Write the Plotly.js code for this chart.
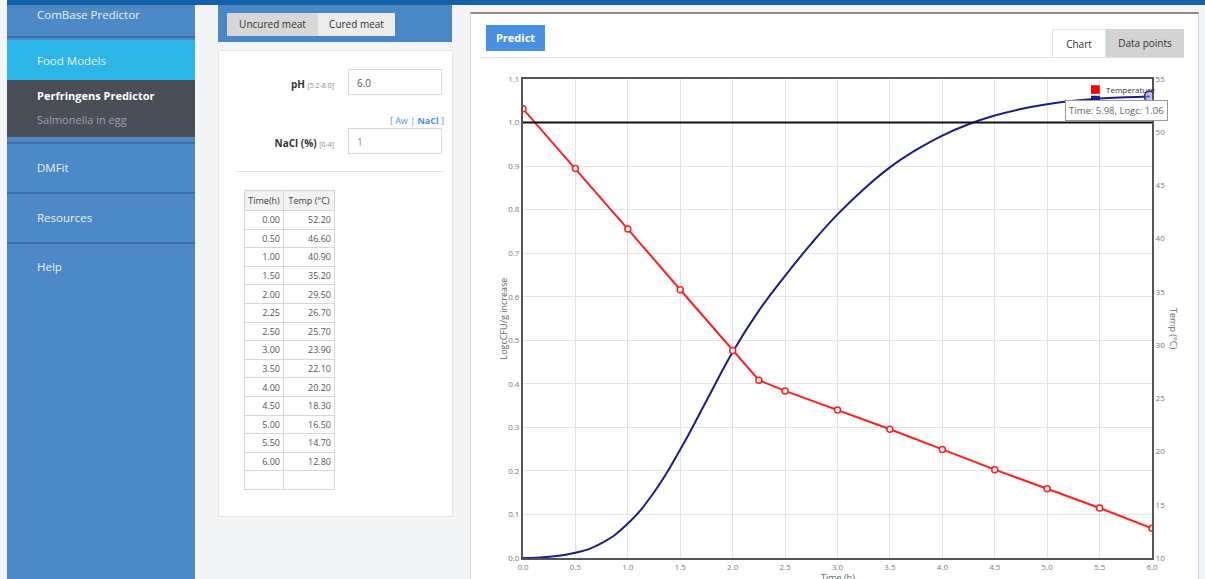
<!DOCTYPE html>
<html>
<head>
<meta charset="utf-8">
<script src="https://cdn.plot.ly/plotly-3.0.1.min.js"></script>
<style>
  html,body{margin:0;padding:0;width:1205px;height:579px;overflow:hidden;background:#f4f5f7;font-family:"Open Sans","Noto Sans",sans-serif;}
  .abs{position:absolute;}
  #topbar{left:7px;top:0;width:1198px;height:5px;background:#1561a9;}
  #sidebar{left:7px;top:5px;width:188px;height:574px;background:#4d89c7;}
  .sep{position:absolute;left:0;width:188px;height:2px;background:#3c6fa6;}
  .item{position:absolute;left:30px;color:#e9f1fa;font-size:11.5px;}
  #active{position:absolute;left:0;top:35px;width:188px;height:40px;background:#2cb5e7;}
  #notch{position:absolute;right:0;top:49px;width:0;height:0;border-top:7px solid transparent;border-bottom:7px solid transparent;border-right:8px solid #fff;}
  #submenu{position:absolute;left:0;top:75px;width:188px;height:57px;background:#4a4e57;}
  #midtop{left:218px;top:5px;width:234px;height:37px;background:#4a87c5;}
  .btn{position:absolute;top:8px;height:23px;line-height:23px;font-size:10px;color:#333;text-align:center;}
  #form{left:218px;top:50px;width:233px;height:465px;background:#fff;border:1px solid #e6e6e6;}
  .lbl{position:absolute;font-size:10px;font-weight:bold;color:#333;text-align:right;}
  .lbl small{font-weight:normal;font-size:7px;color:#888;}
  .inp{position:absolute;width:94px;height:26px;border:1px solid #d8d8d8;font-size:10px;color:#555;line-height:26px;padding-left:8px;box-sizing:border-box;}
  table{border-collapse:collapse;table-layout:fixed;font-size:9px;color:#555;}
  td,th{border:1px solid #d6d6d6;height:17.6px;padding:0 3px;text-align:right;white-space:nowrap;overflow:hidden;}
  th{font-weight:normal;background:#f2f2f2;color:#444;height:19px;text-align:center;padding:0 1px;}
  #panel{left:470px;top:12px;width:727px;height:567px;background:#fff;border-left:1px solid #d5d5d5;border-right:1px solid #d5d5d5;border-top:2px solid #8c8c8c;}
  #predict{left:486px;top:25px;width:59px;height:26px;background:#4a90e2;color:#fff;font-size:11px;font-weight:bold;line-height:26px;text-align:center;}
  #tabline{left:480px;top:57px;width:704px;height:1px;background:#e2e2e2;}
  #tabchart{left:1052px;top:29px;width:54px;height:28px;background:#fff;border:1px solid #e2e2e2;border-bottom:none;font-size:10px;color:#333;line-height:28px;text-align:center;box-sizing:border-box;}
  #tabdata{left:1106px;top:29px;width:78px;height:28px;background:#d3d3d3;font-size:10px;color:#333;line-height:28px;text-align:center;}
  #chart{left:470px;top:60px;width:727px;height:540px;}
</style>
</head>
<body>
<div id="sidebar" class="abs">
  <div class="item" style="top:2px;">ComBase Predictor</div>
  <div class="sep" style="top:31px;"></div>
  <div id="active"><div class="item" style="top:13px;">Food Models</div><div id="notch"></div></div>
  <div id="submenu">
    <div class="item" style="top:8px;color:#fff;font-weight:bold;font-size:11px;">Perfringens Predictor</div>
    <div class="item" style="top:32px;color:#9aa0aa;font-size:11px;">Salmonella in egg</div>
  </div>
  <div class="sep" style="top:137px;"></div>
  <div class="item" style="top:155px;">DMFit</div>
  <div class="sep" style="top:187px;"></div>
  <div class="item" style="top:205px;">Resources</div>
  <div class="sep" style="top:237px;"></div>
  <div class="item" style="top:254px;">Help</div>
</div>
<div id="topbar" class="abs"></div>

<div id="midtop" class="abs">
  <div class="btn" style="left:9px;width:91px;background:#d7d7d7;">Uncured meat</div>
  <div class="btn" style="left:100px;width:77px;background:#ececec;">Cured meat</div>
</div>
<div id="form" class="abs">
  <div class="lbl" style="left:20px;width:95px;top:26px;">pH <small>[5.2-8.0]</small></div>
  <div class="inp" style="left:129px;top:18px;">6.0</div>
  <div class="abs" style="right:8px;top:63px;font-size:9px;color:#4a90e2;">[ Aw | <b>NaCl</b> ]</div>
  <div class="lbl" style="left:20px;width:95px;top:85px;">NaCl (%) <small>[0-4]</small></div>
  <div class="inp" style="left:129px;top:77px;color:#888;">1</div>
  <div class="abs" style="left:17px;top:120px;width:207px;height:1px;background:#e4e4e4;"></div>
  <div class="abs" style="left:25px;top:139px;" id="tblwrap"></div>
</div>

<div id="panel" class="abs"></div>
<div id="predict" class="abs">Predict</div>
<div id="tabline" class="abs"></div>
<div id="tabchart" class="abs">Chart</div>
<div id="tabdata" class="abs">Data points</div>
<div id="chart" class="abs"></div>

<script>
// ---- data ----
const timeH = [0.00, 0.50, 1.00, 1.50, 2.00, 2.25, 2.50, 3.00, 3.50, 4.00, 4.50, 5.00, 5.50, 6.00];
const tempC = [52.20, 46.60, 40.90, 35.20, 29.50, 26.70, 25.70, 23.90, 22.10, 20.20, 18.30, 16.50, 14.70, 12.80];
const growthTime = [0, 0.25, 0.5, 0.75, 1.0, 1.25, 1.5, 1.75, 2.0, 2.25, 2.5, 2.75, 3.0, 3.25, 3.5, 3.75, 4.0, 4.25, 4.5, 4.75, 5.0, 5.25, 5.5, 5.75, 5.98];
const growthLog = [0, 0.003, 0.012, 0.034, 0.079, 0.151, 0.249, 0.361, 0.473, 0.568, 0.648, 0.722, 0.789, 0.847, 0.897, 0.937, 0.970, 0.996, 1.016, 1.031, 1.042, 1.050, 1.055, 1.058, 1.060];
const referenceLine = 1.0;
const xTitle = 'Time (h)';
const yTitle = 'LogcCFU/g increase';
const y2Title = 'Temp (°C)';
const tableHeaders = ['Time(h)', 'Temp (°C)'];

// ---- table ----
let html = '<table><colgroup><col style="width:39px"><col style="width:51px"></colgroup><tr><th>' + tableHeaders[0] + '</th><th>' + tableHeaders[1] + '</th></tr>';
for (let i = 0; i < timeH.length; i++) {
  html += '<tr><td>' + timeH[i].toFixed(2) + '</td><td>' + tempC[i].toFixed(2) + '</td></tr>';
}
html += '<tr><td></td><td></td></tr></table>';
document.getElementById('tblwrap').innerHTML = html;

// ---- chart ----
const lastI = growthTime.length - 1;
const traces = [
  {x: growthTime, y: growthLog, mode: 'lines', line: {color: '#1c1c8f', width: 2, shape: 'spline', smoothing: 1.3}, name: 'Logc', hoverinfo: 'skip'},
  {x: timeH, y: tempC, yaxis: 'y2', mode: 'lines+markers', name: 'Temperature',
   line: {color: '#ff1f1f', width: 2},
   marker: {symbol: 'circle', size: 6, color: '#ffffff', line: {color: '#ff1f1f', width: 1.5}}, hoverinfo: 'skip'},
  {x: [growthTime[lastI]], y: [growthLog[lastI]], mode: 'markers', showlegend: false, hoverinfo: 'skip',
   marker: {size: 11, color: 'rgba(140,140,230,0.55)', line: {color: '#2a2a9a', width: 1.5}}}
];
const tickFont = {size: 8, color: '#7a7a7a', family: 'Open Sans, sans-serif'};
const layout = {
  width: 727, height: 540,
  margin: {l: 53, r: 45, t: 19, b: 42},
  paper_bgcolor: 'rgba(0,0,0,0)', plot_bgcolor: '#ffffff',
  showlegend: false,
  font: {family: 'Open Sans, sans-serif'},
  xaxis: {range: [0, 6], dtick: 0.5, tick0: 0, tickformat: '.1f', showgrid: true, gridcolor: '#e4e4e4', gridwidth: 1,
          showline: true, linecolor: '#555', linewidth: 2, mirror: true, zeroline: false, ticks: '', tickfont: tickFont, fixedrange: true},
  yaxis: {range: [0, 1.1], dtick: 0.1, tick0: 0, tickformat: '.1f', showgrid: true, gridcolor: '#e4e4e4', gridwidth: 1,
          showline: true, linecolor: '#555', linewidth: 2, mirror: true, zeroline: false, ticks: '', tickfont: tickFont, fixedrange: true},
  yaxis2: {overlaying: 'y', side: 'right', range: [10, 55], dtick: 5, showgrid: false, showline: true, linecolor: '#555', linewidth: 2,
           zeroline: false, ticks: '', tickfont: tickFont, fixedrange: true},
  shapes: [
    {type: 'line', xref: 'x', yref: 'y', x0: 0, x1: 6, y0: referenceLine, y1: referenceLine, line: {color: '#111', width: 2}},
    {type: 'rect', xref: 'paper', yref: 'paper', x0: 0.903, x1: 0.917, y0: 0.969, y1: 0.987, fillcolor: '#ff0000', line: {width: 0}},
    {type: 'rect', xref: 'paper', yref: 'paper', x0: 0.903, x1: 0.917, y0: 0.947, y1: 0.965, fillcolor: '#1c1c8f', line: {width: 0}}
  ],
  annotations: [
    {xref: 'paper', yref: 'paper', x: 0.924, y: 0.978, xanchor: 'left', yanchor: 'middle', showarrow: false,
     text: 'Temperature', font: {size: 8, color: '#333'}},
    {xref: 'x', yref: 'y', x: growthTime[lastI], y: growthLog[lastI], xanchor: 'right', yanchor: 'top', showarrow: false,
     xshift: 18, yshift: -4, text: 'Time: ' + growthTime[lastI].toFixed(2) + ', Logc: ' + growthLog[lastI].toFixed(2),
     bgcolor: '#ffffff', bordercolor: '#9a9a9a', borderwidth: 1, borderpad: 3, font: {size: 9.5, color: '#666'}},
    {xref: 'paper', yref: 'paper', x: 0, y: 0.5, xanchor: 'center', yanchor: 'middle', showarrow: false, textangle: -90,
     xshift: -20, text: yTitle, font: {size: 9, color: '#666'}},
    {xref: 'paper', yref: 'paper', x: 1, y: 0.48, xanchor: 'center', yanchor: 'middle', showarrow: false, textangle: 90,
     xshift: 22, text: y2Title, font: {size: 9, color: '#666'}},
    {xref: 'paper', yref: 'paper', x: 0.5, y: 0, xanchor: 'center', yanchor: 'top', showarrow: false,
     yshift: -11, text: xTitle, font: {size: 9, color: '#666'}}
  ]
};
Plotly.newPlot('chart', traces, layout, {displayModeBar: false, staticPlot: true});
</script>
</body>
</html>
